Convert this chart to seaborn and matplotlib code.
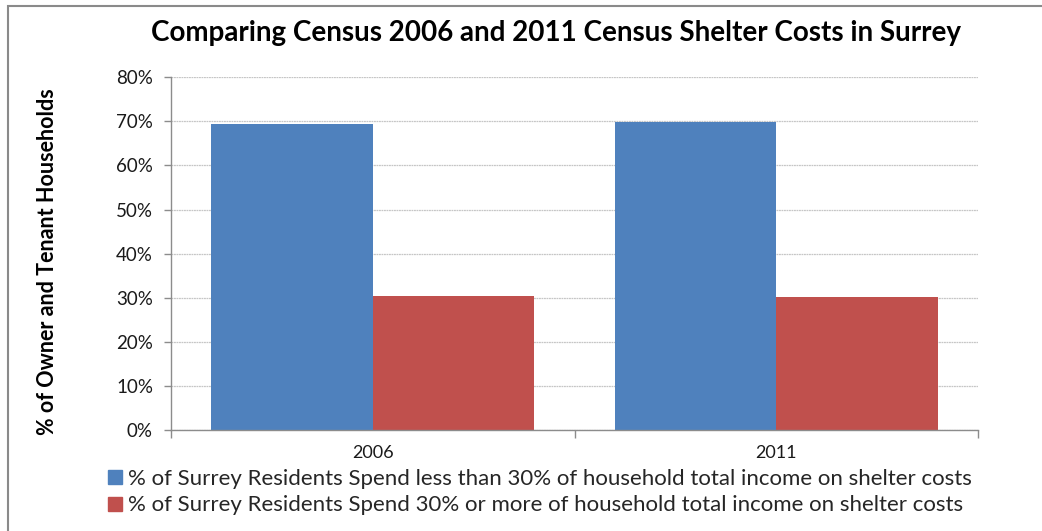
import matplotlib
matplotlib.use("Agg")
import matplotlib.pyplot as plt
from matplotlib.patches import Rectangle
from matplotlib.lines import Line2D
from matplotlib.ticker import FuncFormatter, FixedLocator
import seaborn as sns
import pandas as pd

years = ["2006", "2011"]
series_names = [
    "% of Surrey Residents Spend less than 30% of household total income on shelter costs",
    "% of Surrey Residents Spend 30% or more of household total income on shelter costs",
]
under_30 = [69.3, 69.9]
over_30 = [30.5, 30.1]
colors = ["#4F81BD", "#C0504D"]

df = pd.DataFrame({
    "year": years * 2,
    "series": [series_names[0]] * 2 + [series_names[1]] * 2,
    "pct": under_30 + over_30,
})

sns.set_theme(style="white")
plt.rcParams["font.family"] = ["Lato", "DejaVu Sans"]

fig = plt.figure(figsize=(10.42, 5.31), dpi=100)
ax = fig.add_axes([171 / 1042, 1 - 430 / 531, (978 - 171) / 1042, (430 - 77.3) / 531])

sns.barplot(data=df, x="year", y="pct", hue="series", hue_order=series_names,
            order=years, palette=colors, width=0.8, gap=0, saturation=1,
            edgecolor="none", linewidth=0, ax=ax, legend=False)

ax.set_xlim(-0.5, 1.5)
ax.set_ylim(0, 80)
ax.set_yticks(range(0, 81, 10))
ax.yaxis.set_major_formatter(FuncFormatter(lambda v, p: f"{v:.0f}%"))
ax.grid(axis="y", color="#C6C6C6", linewidth=0.9, linestyle=(0, (1.5, 0.5)))
ax.set_axisbelow(True)

spine_col = "#8C8C8C"
for s in ["top", "right"]:
    ax.spines[s].set_visible(False)
for s in ["left", "bottom"]:
    ax.spines[s].set_color(spine_col)
    ax.spines[s].set_linewidth(1.0)

ax.tick_params(axis="y", which="major", direction="out", length=5, width=1,
               color=spine_col, labelsize=13.5, labelcolor="#1a1a1a", pad=8, left=True)
ax.xaxis.set_minor_locator(FixedLocator([-0.5, 0.5, 1.5]))
ax.tick_params(axis="x", which="minor", direction="out", length=6, width=1,
               color=spine_col, bottom=True)
ax.tick_params(axis="x", which="major", length=0, labelsize=13,
               labelcolor="#1a1a1a", pad=11)

ax.set_xlabel("")
ax.set_ylabel("")
fig.text(48 / 1042, 1 - 262 / 531, "% of Owner and Tenant Households",
         rotation=90, ha="center", va="center", fontsize=15.5,
         fontweight="bold", color="#000000")

fig.text(556 / 1042, 1 - 33 / 531,
         "Comparing Census 2006 and 2011 Census Shelter Costs in Surrey",
         ha="center", va="center", fontsize=20, fontweight="bold", color="#000000")

handles = [Line2D([0], [0], marker="s", linestyle="none", markersize=10,
                  markerfacecolor=c, markeredgecolor=c) for c in colors]
fig.legend(handles, series_names, loc="center left",
           bbox_to_anchor=(108 / 1042, 1 - 492 / 531), frameon=False,
           fontsize=16, handlelength=0.6, handletextpad=0.3,
           labelspacing=0.3, borderaxespad=0, borderpad=0)

# outer chart border (left and top edges visible)
fig.patches.append(Rectangle((8 / 1042, -0.05), 1.2, 1 - 6 / 531 + 0.05,
                             transform=fig.transFigure, fill=False,
                             edgecolor="#8A8A8A", linewidth=1.5))

fig.savefig("out.png", dpi=100)
